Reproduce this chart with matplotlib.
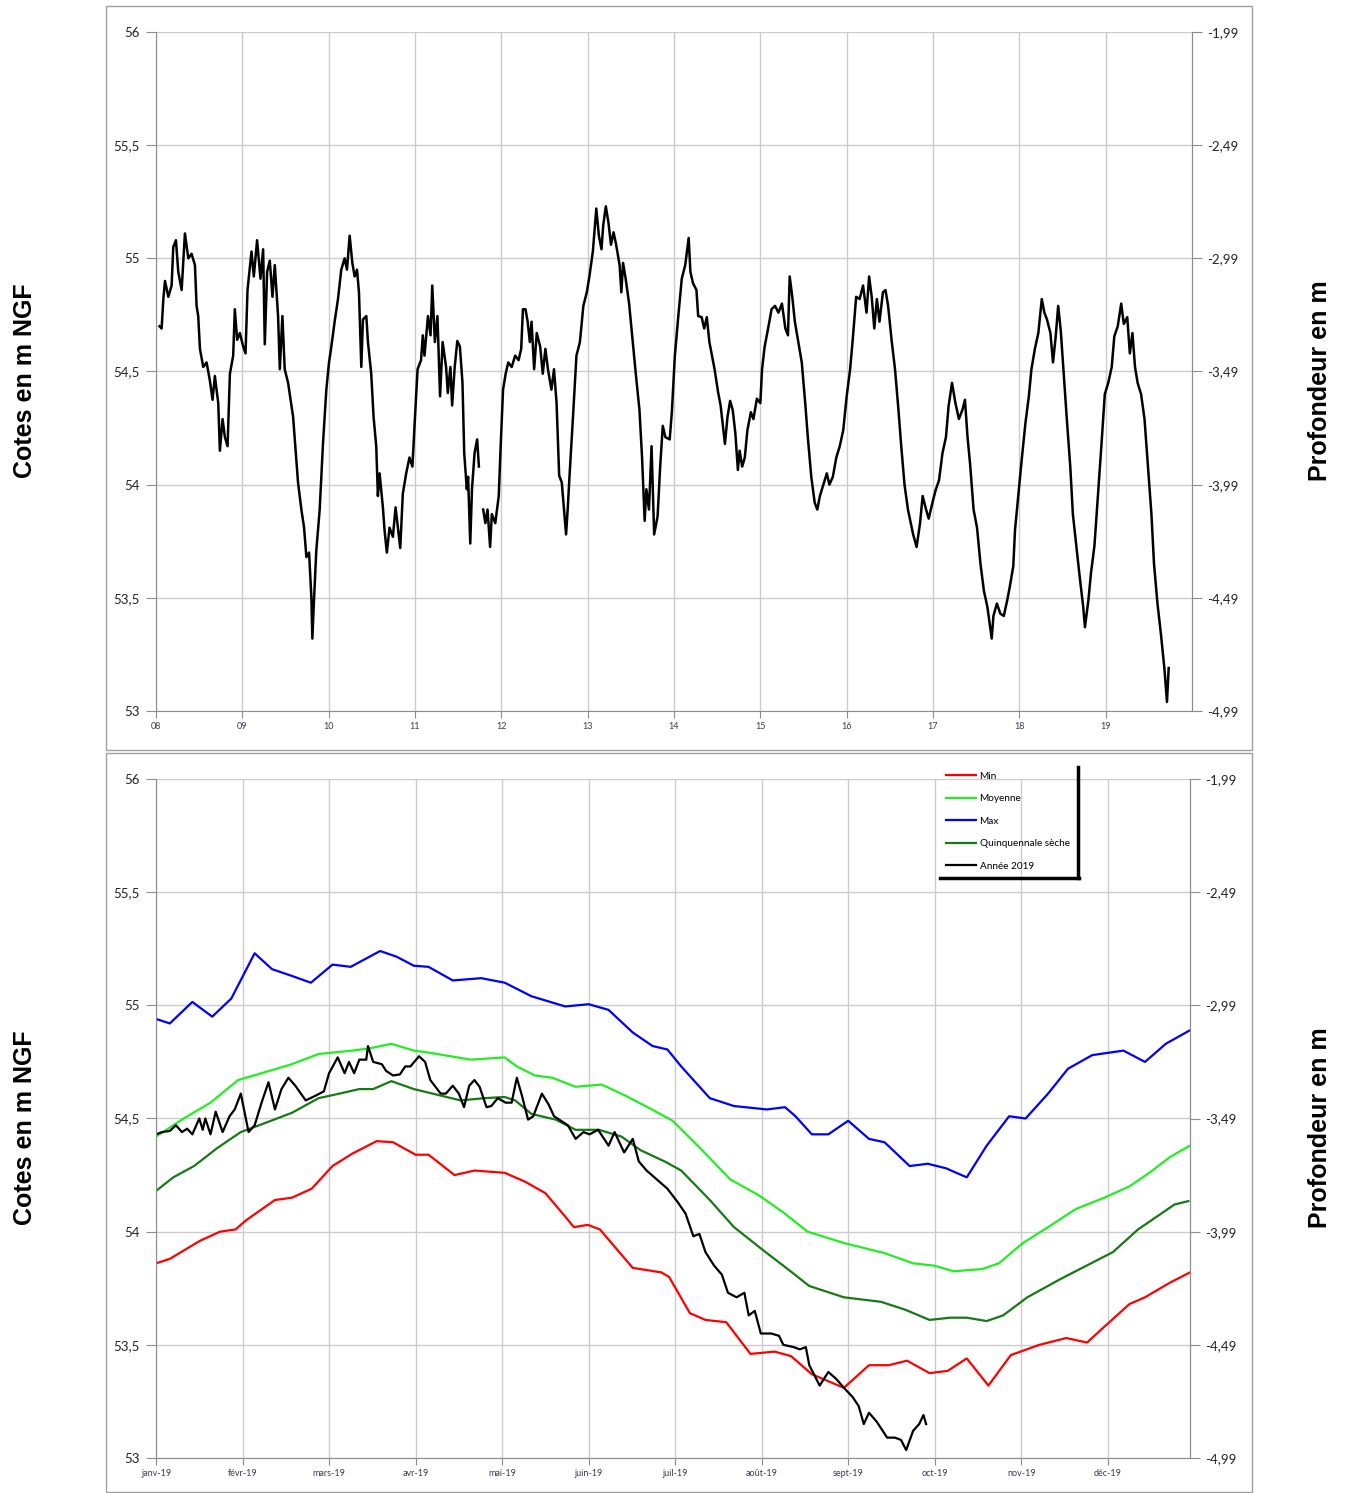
import numpy as np
import matplotlib.pyplot as plt
from matplotlib.lines import Line2D
from matplotlib.patches import Rectangle

# --- Top chart: piezometric level 2008-2019 ---
hist_years = [
    2008.04, 2008.065, 2008.085, 2008.104, 2008.143, 2008.181, 2008.200, 2008.231, 2008.258, 2008.297,
    2008.335, 2008.374, 2008.412, 2008.451, 2008.470, 2008.489, 2008.509, 2008.547, 2008.586, 2008.624,
    2008.655, 2008.682, 2008.721, 2008.740, 2008.771, 2008.798, 2008.829, 2008.856, 2008.894, 2008.913,
    2008.940, 2008.971, 2009.010, 2009.037, 2009.060, 2009.106, 2009.133, 2009.171, 2009.210, 2009.241,
    2009.260, 2009.287, 2009.318, 2009.349, 2009.376, 2009.414, 2009.434, 2009.464, 2009.491, 2009.530,
    2009.588, 2009.645, 2009.684, 2009.715, 2009.742, 2009.773, 2009.800, 2009.811, 2009.830, 2009.857,
    2009.896, 2009.934, 2009.973, 2010.004, 2010.031, 2010.069, 2010.108, 2010.146, 2010.185, 2010.212,
    2010.243, 2010.274, 2010.301, 2010.328, 2010.351, 2010.378, 2010.397, 2010.436, 2010.455, 2010.493,
    2010.520, 2010.551, 2010.570, 2010.590, 2010.628, 2010.647, 2010.674, 2010.705, 2010.744, 2010.775,
    2010.802, 2010.829, 2010.859, 2010.898, 2010.936, 2010.970, 2011.00, 2011.03, 2011.07, 2011.09,
    2011.11, 2011.15, 2011.18, 2011.20, 2011.23, 2011.26, 2011.29, 2011.32, 2011.36, 2011.38,
    2011.41, 2011.43, 2011.46, 2011.49, 2011.52, 2011.55, 2011.57, 2011.60, 2011.615, 2011.64,
    2011.66, 2011.69, 2011.72, 2011.74, 2011.755, 2011.79, 2011.815, 2011.84, 2011.87, 2011.89,
    2011.93, 2011.97, 2011.99, 2012.02, 2012.05, 2012.08, 2012.12, 2012.16, 2012.20, 2012.23,
    2012.25, 2012.28, 2012.305, 2012.33, 2012.35, 2012.38, 2012.41, 2012.45, 2012.48, 2012.51,
    2012.54, 2012.58, 2012.61, 2012.64, 2012.67, 2012.70, 2012.72, 2012.75, 2012.77, 2012.79,
    2012.83, 2012.87, 2012.91, 2012.95, 2012.99, 2013.02, 2013.06, 2013.10, 2013.13, 2013.16,
    2013.18, 2013.21, 2013.24, 2013.27, 2013.30, 2013.33, 2013.37, 2013.39, 2013.41, 2013.44,
    2013.48, 2013.52, 2013.56, 2013.60, 2013.63, 2013.66, 2013.68, 2013.71, 2013.74, 2013.77,
    2013.81, 2013.84, 2013.87, 2013.90, 2013.95, 2013.975, 2014.01, 2014.05, 2014.09, 2014.13,
    2014.17, 2014.19, 2014.22, 2014.26, 2014.28, 2014.32, 2014.35, 2014.38, 2014.41, 2014.44,
    2014.47, 2014.51, 2014.54, 2014.59, 2014.62, 2014.65, 2014.68, 2014.71, 2014.74, 2014.76,
    2014.79, 2014.82, 2014.85, 2014.89, 2014.92, 2014.96, 2015.00, 2015.02, 2015.05, 2015.09,
    2015.13, 2015.17, 2015.21, 2015.25, 2015.29, 2015.32, 2015.34, 2015.37, 2015.40, 2015.44,
    2015.48, 2015.52, 2015.55, 2015.59, 2015.63, 2015.66, 2015.69, 2015.73, 2015.77, 2015.80,
    2015.84, 2015.88, 2015.92, 2015.96, 2016.00, 2016.04, 2016.07, 2016.11, 2016.15, 2016.19,
    2016.23, 2016.26, 2016.29, 2016.32, 2016.35, 2016.38, 2016.42, 2016.45, 2016.48, 2016.52,
    2016.56, 2016.60, 2016.63, 2016.67, 2016.71, 2016.77, 2016.81, 2016.85, 2016.88, 2016.92,
    2016.95, 2017.00, 2017.03, 2017.07, 2017.11, 2017.15, 2017.18, 2017.22, 2017.26, 2017.30,
    2017.34, 2017.37, 2017.40, 2017.43, 2017.47, 2017.51, 2017.55, 2017.59, 2017.63, 2017.68,
    2017.70, 2017.74, 2017.78, 2017.82, 2017.86, 2017.89, 2017.93, 2017.95, 2017.99, 2018.03,
    2018.07, 2018.11, 2018.14, 2018.18, 2018.22, 2018.26, 2018.29, 2018.32, 2018.36, 2018.39,
    2018.42, 2018.45, 2018.48, 2018.51, 2018.55, 2018.59, 2018.62, 2018.66, 2018.70, 2018.74,
    2018.76, 2018.80, 2018.83, 2018.87, 2018.91, 2018.95, 2018.99, 2019.03, 2019.07, 2019.10,
    2019.14, 2019.18, 2019.21, 2019.25, 2019.28, 2019.31, 2019.34, 2019.37, 2019.41, 2019.45,
    2019.49, 2019.53, 2019.56, 2019.60, 2019.64, 2019.68, 2019.71, 2019.73,
]
hist_level = [
    54.70, 54.69, 54.82, 54.90, 54.83, 54.88, 55.05, 55.08, 54.94, 54.86,
    55.11, 55.00, 55.02, 54.97, 54.79, 54.745, 54.60, 54.52, 54.54, 54.46,
    54.375, 54.48, 54.36, 54.15, 54.29, 54.21, 54.17, 54.49, 54.57, 54.775,
    54.64, 54.67, 54.61, 54.58, 54.86, 55.03, 54.92, 55.08, 54.91, 55.04,
    54.62, 54.94, 54.99, 54.83, 54.97, 54.745, 54.51, 54.745, 54.51, 54.45,
    54.30, 54.01, 53.89, 53.81, 53.68, 53.70, 53.50, 53.32, 53.49, 53.71,
    53.89, 54.18, 54.42, 54.54, 54.61, 54.72, 54.82, 54.95, 55.00, 54.95,
    55.10, 54.98, 54.92, 54.95, 54.85, 54.52, 54.73, 54.745, 54.63, 54.49,
    54.30, 54.17, 53.95, 54.05, 53.90, 53.80, 53.70, 53.81, 53.77, 53.90,
    53.81, 53.72, 53.96, 54.05, 54.12, 54.08, 54.30, 54.51, 54.55, 54.66,
    54.57, 54.745, 54.66, 54.88, 54.63, 54.745, 54.39, 54.63, 54.52, 54.405,
    54.52, 54.35, 54.52, 54.635, 54.61, 54.45, 54.14, 53.98, 54.035, 53.74,
    53.98, 54.14, 54.20, 54.08, np.nan, 53.89, 53.83, 53.89, 53.725, 53.87,
    53.83, 53.95, 54.15, 54.42, 54.49, 54.54, 54.52, 54.57, 54.55, 54.60,
    54.775, 54.775, 54.72, 54.63, 54.72, 54.51, 54.67, 54.61, 54.49, 54.60,
    54.51, 54.42, 54.51, 54.36, 54.04, 54.01, 53.92, 53.78, 53.90, 54.04,
    54.30, 54.57, 54.63, 54.79, 54.85, 54.92, 55.03, 55.22, 55.10, 55.04,
    55.145, 55.23, 55.16, 55.06, 55.115, 55.06, 54.97, 54.85, 54.98, 54.91,
    54.80, 54.64, 54.48, 54.33, 54.12, 53.84, 53.98, 53.89, 54.17, 53.78,
    53.86, 54.08, 54.26, 54.21, 54.20, 54.32, 54.57, 54.745, 54.91, 54.97,
    55.09, 54.94, 54.89, 54.86, 54.745, 54.74, 54.69, 54.74, 54.63, 54.57,
    54.51, 54.41, 54.35, 54.18, 54.30, 54.37, 54.33, 54.23, 54.065, 54.15,
    54.08, 54.12, 54.24, 54.32, 54.29, 54.38, 54.36, 54.51, 54.61, 54.69,
    54.775, 54.79, 54.76, 54.80, 54.69, 54.66, 54.92, 54.83, 54.72, 54.63,
    54.54, 54.36, 54.21, 54.035, 53.92, 53.89, 53.95, 54.00, 54.05, 54.00,
    54.035, 54.12, 54.17, 54.24, 54.39, 54.51, 54.64, 54.83, 54.82, 54.88,
    54.76, 54.92, 54.83, 54.69, 54.82, 54.72, 54.85, 54.86, 54.79, 54.64,
    54.51, 54.33, 54.18, 54.00, 53.89, 53.78, 53.725, 53.83, 53.95, 53.89,
    53.85, 53.93, 53.975, 54.02, 54.14, 54.21, 54.345, 54.45, 54.36, 54.29,
    54.33, 54.375, 54.21, 54.09, 53.89, 53.81, 53.65, 53.53, 53.46, 53.32,
    53.42, 53.475, 53.43, 53.42, 53.49, 53.55, 53.64, 53.80, 53.96, 54.12,
    54.27, 54.39, 54.51, 54.60, 54.67, 54.82, 54.76, 54.73, 54.67, 54.54,
    54.65, 54.79, 54.68, 54.51, 54.29, 54.08, 53.87, 53.73, 53.59, 53.46,
    53.37, 53.49, 53.61, 53.73, 53.95, 54.17, 54.40, 54.45, 54.52, 54.655,
    54.70, 54.80, 54.71, 54.74, 54.58, 54.67, 54.52, 54.45, 54.40, 54.29,
    54.08, 53.87, 53.65, 53.475, 53.34, 53.19, 53.04, 53.19,
]
year_ticks = list(range(2008, 2020))
year_labels = ['08', '09', '10', '11', '12', '13', '14', '15', '16', '17', '18', '19']

# --- Bottom chart: 2019 vs statistics, x in months since 1 Jan ---
month_labels = ['janv-19', 'févr-19', 'mars-19', 'avr-19', 'mai-19', 'juin-19',
                'juil-19', 'août-19', 'sept-19', 'oct-19', 'nov-19', 'déc-19']

max_m = [0, 0.16, 0.42, 0.65, 0.87, 1.14, 1.34, 1.57, 1.79, 2.04, 2.25, 2.59, 2.78, 2.98, 3.15,
         3.43, 3.76, 4.03, 4.34, 4.73, 5.0, 5.23, 5.51, 5.74, 5.91, 6.07, 6.40, 6.68, 7.06, 7.27,
         7.39, 7.58, 7.77, 8.0, 8.24, 8.42, 8.71, 8.92, 9.13, 9.37, 9.60, 9.86, 10.05, 10.31,
         10.54, 10.82, 11.18, 11.43, 11.67, 11.95]
max_v = [54.94, 54.92, 55.015, 54.95, 55.03, 55.23, 55.16, 55.13, 55.10, 55.18, 55.17, 55.24,
         55.215, 55.175, 55.17, 55.11, 55.12, 55.10, 55.04, 54.995, 55.005, 54.98, 54.88, 54.82,
         54.805, 54.73, 54.59, 54.555, 54.54, 54.55, 54.51, 54.43, 54.43, 54.49, 54.41, 54.395,
         54.29, 54.30, 54.28, 54.24, 54.38, 54.51, 54.50, 54.61, 54.72, 54.78, 54.80, 54.75,
         54.83, 54.89]

mean_m = [0, 0.32, 0.63, 0.95, 1.22, 1.57, 1.88, 2.27, 2.47, 2.72, 2.98, 3.17, 3.64, 4.03, 4.17,
          4.38, 4.58, 4.85, 5.15, 5.43, 5.73, 5.97, 6.26, 6.64, 6.97, 7.25, 7.53, 7.95, 8.42,
          8.75, 8.99, 9.22, 9.55, 9.74, 10.02, 10.31, 10.63, 10.96, 11.25, 11.48, 11.72, 11.95]
mean_v = [54.42, 54.50, 54.57, 54.67, 54.70, 54.74, 54.785, 54.80, 54.81, 54.83, 54.80, 54.79,
          54.76, 54.77, 54.73, 54.69, 54.68, 54.64, 54.65, 54.60, 54.54, 54.49, 54.38, 54.23,
          54.16, 54.085, 54.00, 53.95, 53.905, 53.86, 53.85, 53.825, 53.835, 53.86, 53.95, 54.02,
          54.10, 54.15, 54.20, 54.26, 54.33, 54.38]

dry5_m = [0, 0.2, 0.44, 0.71, 0.98, 1.26, 1.57, 1.88, 2.12, 2.35, 2.51, 2.72, 2.98, 3.25, 3.52,
          3.80, 4.03, 4.15, 4.34, 4.62, 4.85, 5.12, 5.38, 5.6, 5.88, 6.07, 6.40, 6.68, 7.01, 7.30,
          7.55, 7.95, 8.38, 8.66, 8.94, 9.18, 9.37, 9.60, 9.79, 10.07, 10.45, 10.78, 11.06, 11.35,
          11.58, 11.77, 11.93]
dry5_v = [54.18, 54.24, 54.29, 54.37, 54.44, 54.48, 54.525, 54.59, 54.61, 54.63, 54.63, 54.665,
          54.63, 54.605, 54.58, 54.59, 54.595, 54.58, 54.52, 54.495, 54.45, 54.45, 54.42, 54.36,
          54.31, 54.27, 54.14, 54.02, 53.92, 53.835, 53.76, 53.71, 53.69, 53.655, 53.61, 53.62,
          53.62, 53.605, 53.63, 53.71, 53.79, 53.855, 53.91, 54.01, 54.07, 54.12, 54.135]

min_m = [0, 0.16, 0.51, 0.74, 0.92, 1.04, 1.375, 1.57, 1.80, 2.04, 2.27, 2.55, 2.74, 3.0, 3.15,
         3.45, 3.68, 4.03, 4.27, 4.5, 4.7, 4.83, 4.99, 5.13, 5.51, 5.84, 5.93, 6.17, 6.35, 6.59,
         6.87, 7.15, 7.34, 7.58, 7.95, 8.24, 8.47, 8.68, 8.94, 9.15, 9.37, 9.62, 9.88, 10.21,
         10.52, 10.76, 10.96, 11.25, 11.43, 11.72, 11.95]
min_v = [53.86, 53.88, 53.96, 54.00, 54.01, 54.05, 54.14, 54.15, 54.19, 54.29, 54.345, 54.40,
         54.395, 54.34, 54.34, 54.25, 54.27, 54.26, 54.22, 54.17, 54.08, 54.02, 54.03, 54.01,
         53.84, 53.82, 53.80, 53.64, 53.61, 53.60, 53.46, 53.47, 53.45, 53.37, 53.31, 53.41,
         53.41, 53.43, 53.375, 53.385, 53.44, 53.32, 53.455, 53.50, 53.53, 53.51, 53.58, 53.68,
         53.71, 53.775, 53.82]

y2019_m = [0, 0.07, 0.16, 0.23, 0.30, 0.36, 0.42, 0.50, 0.54, 0.57, 0.63, 0.69, 0.77, 0.85, 0.91,
           0.98, 1.07, 1.14, 1.22, 1.30, 1.375, 1.45, 1.53, 1.61, 1.73, 1.84, 1.94, 2.0, 2.10,
           2.18, 2.23, 2.29, 2.35, 2.43, 2.45, 2.51, 2.61, 2.66, 2.74, 2.82, 2.88, 2.94, 3.04,
           3.11, 3.17, 3.29, 3.35, 3.43, 3.50, 3.56, 3.62, 3.68, 3.74, 3.82, 3.875, 3.95, 4.04,
           4.11, 4.17, 4.23, 4.30, 4.36, 4.46, 4.54, 4.60, 4.68, 4.76, 4.85, 4.94, 5.01, 5.11,
           5.23, 5.30, 5.41, 5.51, 5.58, 5.67, 5.79, 5.91, 6.03, 6.12, 6.21, 6.28, 6.35, 6.45,
           6.54, 6.61, 6.71, 6.80, 6.85, 6.92, 6.99, 7.11, 7.20, 7.25, 7.37, 7.44, 7.51, 7.55,
           7.67, 7.77, 7.86, 7.95, 8.05, 8.12, 8.18, 8.24, 8.33, 8.45, 8.54, 8.61, 8.67, 8.75,
           8.82, 8.87, 8.90]
y2019_v = [54.43, 54.44, 54.445, 54.47, 54.44, 54.455, 54.43, 54.50, 54.45, 54.50, 54.43, 54.53,
           54.44, 54.51, 54.54, 54.61, 54.44, 54.47, 54.57, 54.66, 54.54, 54.63, 54.68, 54.645,
           54.58, 54.60, 54.62, 54.70, 54.77, 54.70, 54.75, 54.70, 54.76, 54.76, 54.82, 54.75,
           54.74, 54.71, 54.69, 54.695, 54.73, 54.73, 54.775, 54.75, 54.67, 54.61, 54.61, 54.645,
           54.61, 54.55, 54.645, 54.67, 54.64, 54.55, 54.555, 54.59, 54.57, 54.57, 54.68, 54.60,
           54.495, 54.51, 54.61, 54.56, 54.51, 54.49, 54.47, 54.41, 54.44, 54.43, 54.45, 54.38,
           54.44, 54.35, 54.41, 54.31, 54.27, 54.23, 54.19, 54.13, 54.08, 53.98, 53.99, 53.91,
           53.85, 53.81, 53.73, 53.71, 53.73, 53.63, 53.65, 53.55, 53.55, 53.54, 53.50, 53.49,
           53.48, 53.49, 53.41, 53.32, 53.38, 53.35, 53.31, 53.27, 53.23, 53.15, 53.20, 53.16,
           53.09, 53.09, 53.08, 53.035, 53.12, 53.15, 53.19, 53.15]

W, H = 1349, 1493
fig = plt.figure(figsize=(W / 100, H / 100), dpi=100)


def box(l, t, r, b):
    return [l / W, 1 - b / H, (r - l) / W, (b - t) / H]


def fr(v):
    return f'{v:g}'.replace('.', ',')


grey = '#8c8c8c'
grid_col = '#cccccc'
tick_font = 'Lato'


def style(ax):
    ax.set_ylim(53, 56)
    levels = np.arange(53, 56.01, 0.5)
    ax.set_yticks(levels)
    ax.set_yticklabels([fr(v) for v in levels], fontsize=9.5, family=tick_font, color='#222222')
    ax.grid(True, color=grid_col, lw=1)
    ax.set_axisbelow(True)
    ax.spines['top'].set_visible(False)
    for s in ['left', 'bottom', 'right']:
        ax.spines[s].set_color(grey)
    ax.tick_params(axis='y', direction='out', length=7, color=grey, pad=5)
    ax.tick_params(axis='x', direction='out', length=5, color=grey, pad=3,
                   labelsize=6.5, labelcolor='#3a3a50')
    # secondary axis: depth below ground
    twin = ax.twinx()
    twin.set_ylim(53 - 57.99, 56 - 57.99)
    depths = np.arange(-4.99, -1.98, 0.5)
    twin.set_yticks(depths)
    twin.set_yticklabels([f'{d:.2f}'.replace('.', ',') for d in depths],
                         fontsize=9.5, family=tick_font, color='#222222')
    twin.tick_params(axis='y', direction='out', length=7, color=grey, pad=4)
    for s in twin.spines.values():
        s.set_visible(False)
    twin.spines['right'].set_visible(True)
    twin.spines['right'].set_color(grey)


# Top chart
ax1 = fig.add_axes(box(156, 32, 1192, 711))
ax1.plot(hist_years, hist_level, color='black', lw=1.8)
ax1.set_xlim(2008, 2020)
ax1.set_xticks(year_ticks)
ax1.set_xticklabels(year_labels, family=tick_font)
style(ax1)

# Bottom chart
ax2 = fig.add_axes(box(156, 779, 1190, 1458))
ax2.plot(min_m, min_v, color='#ff0000', lw=1.6, label='Min')
ax2.plot(mean_m, mean_v, color='#22ee22', lw=1.6, label='Moyenne')
ax2.plot(max_m, max_v, color='#0000ff', lw=1.6, label='Max')
ax2.plot(dry5_m, dry5_v, color='#157a15', lw=1.6, label='Quinquennale sèche')
ax2.plot(y2019_m, y2019_v, color='black', lw=1.6, label='Année 2019')
ax2.set_xlim(0, 11.95)
ax2.set_xticks(range(12))
ax2.set_xticklabels(month_labels, family=tick_font)
style(ax2)

handles, labels = ax2.get_legend_handles_labels()
fig.legend(handles, labels, loc='upper left', bbox_to_anchor=(941 / W, 1 - 767 / H),
           frameon=False, prop={'family': tick_font, 'size': 7.2}, borderpad=0,
           handlelength=3.0, handletextpad=0.35, labelspacing=1.34)
# shadow-like border of the legend
fig.add_artist(Line2D([1078 / W, 1078 / W], [1 - 767 / H, 1 - 878 / H], color='black', lw=2.5))
fig.add_artist(Line2D([940 / W, 1079 / W], [1 - 878 / H, 1 - 878 / H], color='black', lw=2.5))

# outer chart frames
for t, b in [(6, 750), (753, 1492)]:
    fig.add_artist(Rectangle((106 / W, 1 - b / H), (1252 - 106) / W, (b - t) / H,
                             transform=fig.transFigure, fill=False, edgecolor='#a0a0a0', lw=1))

# axis titles
for yc in [381, 1128]:
    fig.text(25 / W, 1 - yc / H, 'Cotes en m NGF', rotation=90, ha='center', va='center',
             fontsize=18, fontweight='bold', family='Liberation Sans')
    fig.text(1320 / W, 1 - yc / H, 'Profondeur en m', rotation=90, ha='center', va='center',
             fontsize=18, fontweight='bold', family='Liberation Sans')

fig.savefig('out.png', dpi=100)
